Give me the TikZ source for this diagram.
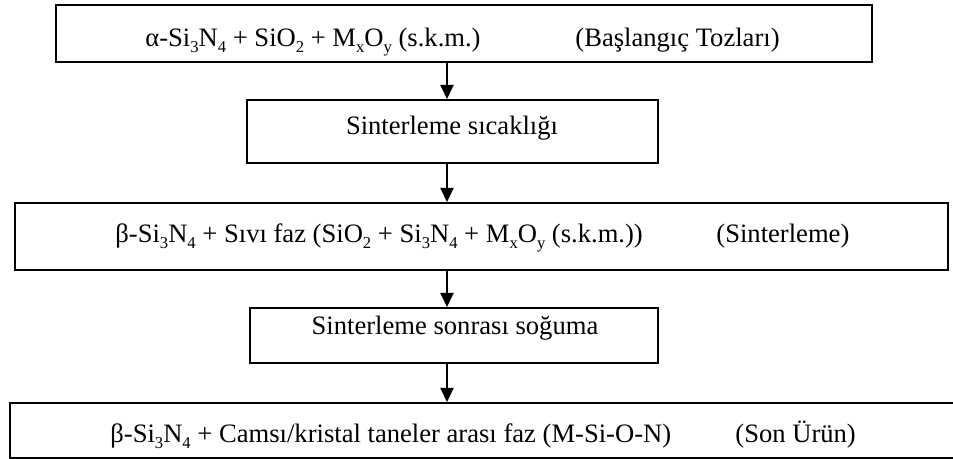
\documentclass[tikz,border=0pt]{standalone}
\usepackage{fontspec}
\setmainfont{Liberation Serif}
\usetikzlibrary{arrows.meta,positioning}
\tikzstyle{box}=[draw,rectangle,line width=1pt,inner sep=0pt]
\tikzstyle{txt}=[inner sep=0pt,anchor=base west]
\tikzstyle{post}=[-{Triangle[length=7pt,width=6.5pt]},line width=1pt]
\newcommand{\ind}[1]{\raisebox{-0.22em}{\fontsize{8.3}{9}\selectfont #1}}

\begin{document}
\begin{tikzpicture}[x=0.5pt,y=-0.5pt,font=\fontsize{13.3}{16}\selectfont]
\useasboundingbox (0,0) rectangle (953,459);

% kutular
\node[box,minimum width=408pt,minimum height=28.5pt] (start) at (464,33.5) {};
\node[box,minimum width=205.5pt,minimum height=31.5pt] (heat) at (452.5,131.5) {};
\node[box,minimum width=466.5pt,minimum height=33.5pt] (sinter) at (481.5,236.5) {};
\node[box,minimum width=204pt,minimum height=27.5pt] (cool) at (454,335.5) {};
\node[box,minimum width=475pt,minimum height=27.5pt] (final) at (485,430.5) {};

% yazilar
\node[txt] (startf) at (145,47) {α-Si\ind{3}N\ind{4} + SiO\ind{2} + M\ind{x}O\ind{y} (s.k.m.)};
\node[txt] (startl) at (575,47) {(Başlangıç Tozları)};
\node[txt,anchor=base] (heatl) at (452,135) {Sinterleme sıcaklığı};
\node[txt] (sinterf) at (115,243) {β-Si\ind{3}N\ind{4} + Sıvı faz (SiO\ind{2} + Si\ind{3}N\ind{4} + M\ind{x}O\ind{y} (s.k.m.))};
\node[txt] (sinterl) at (716,243) {(Sinterleme)};
\node[txt,anchor=base] (cooll) at (455,335) {Sinterleme sonrası soğuma};
\node[txt] (finalf) at (110,443) {β-Si\ind{3}N\ind{4} + Camsı/kristal taneler arası faz (M-Si-O-N)};
\node[txt] (finall) at (735,443) {(Son Ürün)};

\coordinate (ax) at (447,0);
\draw[post] (start.south -| ax) -- (heat.north -| ax);
\draw[post] (heat.south -| ax) -- (sinter.north -| ax);
\draw[post] (sinter.south -| ax) -- (cool.north -| ax);
\draw[post] (cool.south -| ax) -- (final.north -| ax);

\end{tikzpicture}
\end{document}
